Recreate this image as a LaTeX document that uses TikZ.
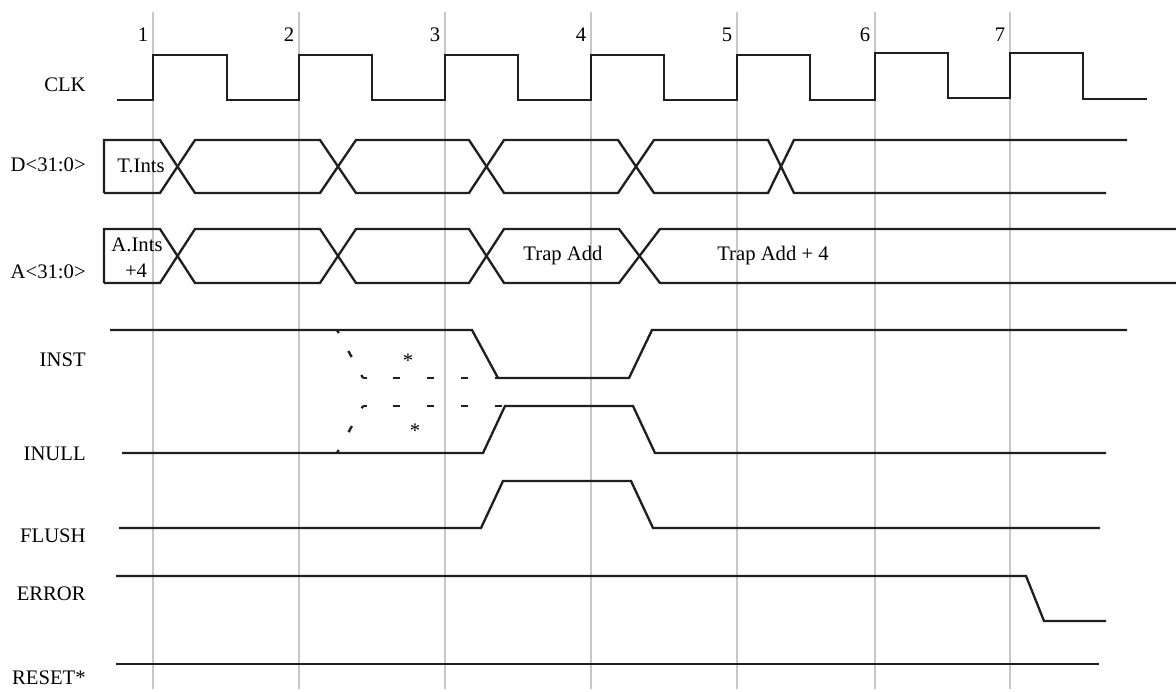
\documentclass[tikz,border=0pt]{standalone}
\usepackage{fontspec}
\setmainfont{Liberation Serif}
\begin{document}
\begin{tikzpicture}[x=0.6pt,y=-0.6pt,font=\fontsize{12.4}{15}\selectfont,
  sig/.style={line width=1.4pt,color=black!88},
  edgeline/.style={line width=1.2pt,color=black!22},
  lbl/.style={anchor=east,inner sep=0pt}]
\useasboundingbox (0,0) rectangle (1176,691);
\foreach \x/\n in {153/1,299/2,445/3,591/4,737/5,875/6,1010/7}{
  \draw[edgeline] (\x,12) -- (\x,689);
  \node[inner sep=0pt] (n\n) at (\x-10,35) {\n};
}
\node[lbl] (CLK) at (86,85) {CLK};
\node[lbl] (D) at (86,165) {D<31:0>};
\node[lbl] (A) at (86,272) {A<31:0>};
\node[lbl] (INST) at (86,360) {INST};
\node[lbl] (INULL) at (86,454) {INULL};
\node[lbl] (FLUSH) at (86,536) {FLUSH};
\node[lbl] (ERROR) at (86,594) {ERROR};
\node[lbl] (RESET) at (86,678) {RESET*};
\draw[sig] (117,100) -- (153,100) -- (153,55) -- (227,55) -- (227,100) -- (299,100) -- (299,55) -- (372,55) -- (372,100) -- (445,100) -- (445,55) -- (518,55) -- (518,100) -- (591,100) -- (591,55) -- (664,55) -- (664,100) -- (737,100) -- (737,55) -- (810,55) -- (810,100) -- (875,100) -- (875,53) -- (948,53) -- (948,98) -- (1010,98) -- (1010,53) -- (1083,53) -- (1083,99) -- (1147,99);
\draw[sig] (104,193) -- (104,140) -- (160,140) -- (195,193) -- (320,193) -- (356,140) -- (469,140) -- (504,193) -- (618,193) -- (654,140) -- (768,140) -- (794,193) -- (1106,193);
\draw[sig] (104,193) -- (160,193) -- (195,140) -- (320,140) -- (356,193) -- (469,193) -- (504,140) -- (618,140) -- (654,193) -- (768,193) -- (794,140) -- (1127,140);
\node (tints) at (141,166) {T.Ints};
\draw[sig] (104,283) -- (104,229) -- (160,229) -- (195,283) -- (320,283) -- (356,229) -- (469,229) -- (504,283) -- (619,283) -- (660,229) -- (1176,229);
\draw[sig] (104,283) -- (160,283) -- (195,229) -- (320,229) -- (356,283) -- (469,283) -- (504,229) -- (619,229) -- (660,283) -- (1176,283);
\node (aints) at (137,245) {A.Ints};
\node (plus) at (136,271) {+4};
\node (trap) at (563,256) {Trap Add};
\node (trap4) at (773,256) {Trap Add + 4};
\draw[sig] (110,330) -- (472,330) -- (498,378) -- (629,378) -- (652,330) -- (1127,330);
\draw[sig] (122,453) -- (483,453) -- (505,406) -- (633,406) -- (655,453) -- (1106,453);
\draw[sig,dash pattern=on 4.2pt off 12.2pt,dash phase=2.1pt] (337,330) -- (363,378);
\draw[sig,dash pattern=on 4.2pt off 16.05pt,dash phase=2.1pt] (363,378) -- (498,378);
\draw[sig,dash pattern=on 4.2pt off 12.2pt,dash phase=2.1pt] (337,453) -- (363,406);
\draw[sig,dash pattern=on 4.2pt off 16.05pt,dash phase=2.1pt] (363,406) -- (505,406);
\node (star1) at (408,361) {*};
\node (star2) at (415,431) {*};
\draw[sig] (119,528) -- (481,528) -- (503,481) -- (631,481) -- (653,528) -- (1100,528);
\draw[sig] (116,576) -- (1026,576) -- (1044,621) -- (1106,621);
\draw[sig] (116,664) -- (1099,664);
\end{tikzpicture}
\end{document}
